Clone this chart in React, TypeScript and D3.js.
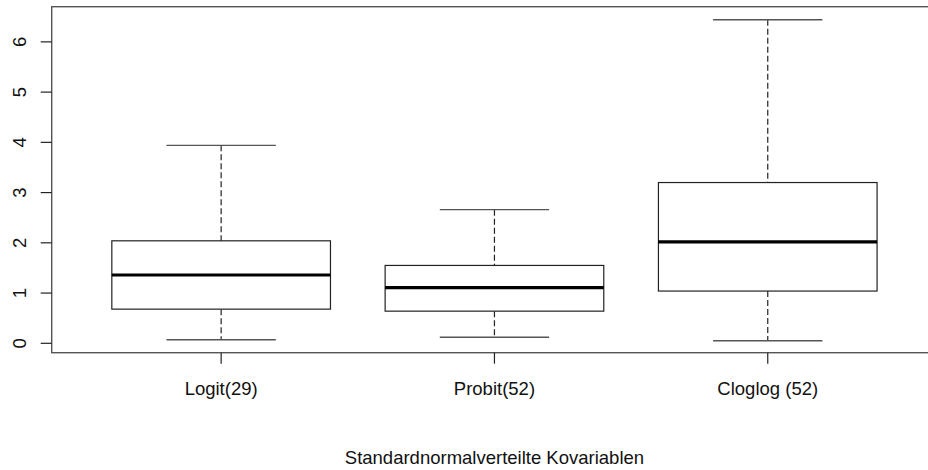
import React from "react";
import * as d3 from "d3";

const categories = ["Logit(29)", "Probit(52)", "Cloglog (52)"];
const whiskerLow = [0.07, 0.12, 0.05];
const q1 = [0.68, 0.64, 1.04];
const median = [1.36, 1.11, 2.02];
const q3 = [2.04, 1.55, 3.2];
const whiskerHigh = [3.94, 2.66, 6.44];
const yTicks = [0, 1, 2, 3, 4, 5, 6];
const xTitle = "Standardnormalverteilte Kovariablen";

const W = 928;
const H = 470;
const left = 51.7;
const top = 6.7;
const bottom = 352.7;
const right = 937.2;

export default function App() {
  const x = d3.scaleLinear().domain([0.38, 3.62]).range([left, right]);
  const y = d3.scaleLinear().domain([-0.187, 6.7]).range([bottom, top]);
  const boxHalf = 0.4;
  const capHalf = 0.2;
  const font = "'Liberation Sans', Arial, sans-serif";

  return (
    <svg
      width={W}
      height={H}
      style={{ position: "absolute", left: 0, top: 0, display: "block", background: "#fff" }}
    >
      <rect x={0} y={0} width={W} height={H} fill="#fff" />
      {/* frame */}
      <rect x={left} y={top} width={right - left} height={bottom - top} fill="none" stroke="#555" strokeWidth={1.4} />
      {/* y axis ticks */}
      {yTicks.map((t) => (
        <g key={"yt" + t}>
          <line x1={left - 11} x2={left} y1={y(t)} y2={y(t)} stroke="#222" strokeWidth={1.2} />
          <text
            transform={`translate(25.5,${y(t)}) rotate(-90)`}
            textAnchor="middle"
            fontFamily={font}
            fontSize={18.5}
            fill="#111"
          >
            {t}
          </text>
        </g>
      ))}
      {/* x ticks and labels */}
      {categories.map((c, i) => (
        <g key={"xt" + i}>
          <line x1={x(i + 1)} x2={x(i + 1)} y1={bottom} y2={bottom + 11} stroke="#222" strokeWidth={1.2} />
          <text
            x={x(i + 1)}
            y={394.5}
            textAnchor="middle"
            fontFamily={font}
            fontSize={18.5}
            fill="#111"
          >
            {c}
          </text>
        </g>
      ))}
      {/* boxes */}
      {categories.map((c, i) => {
        const cx = x(i + 1);
        const bx0 = x(i + 1 - boxHalf);
        const bx1 = x(i + 1 + boxHalf);
        const cx0 = x(i + 1 - capHalf);
        const cx1 = x(i + 1 + capHalf);
        return (
          <g key={"b" + i}>
            <line x1={cx} x2={cx} y1={y(whiskerHigh[i])} y2={y(q3[i])} stroke="#222" strokeWidth={1.2} strokeDasharray="6,3" />
            <line x1={cx} x2={cx} y1={y(q1[i])} y2={y(whiskerLow[i])} stroke="#222" strokeWidth={1.2} strokeDasharray="6,3" />
            <line x1={cx0} x2={cx1} y1={y(whiskerHigh[i])} y2={y(whiskerHigh[i])} stroke="#555" strokeWidth={1.4} />
            <line x1={cx0} x2={cx1} y1={y(whiskerLow[i])} y2={y(whiskerLow[i])} stroke="#555" strokeWidth={1.4} />
            <rect x={bx0} y={y(q3[i])} width={bx1 - bx0} height={y(q1[i]) - y(q3[i])} fill="#fff" stroke="#222" strokeWidth={1.2} />
            <line x1={bx0} x2={bx1} y1={y(median[i])} y2={y(median[i])} stroke="#000" strokeWidth={3.2} />
          </g>
        );
      })}
      {/* x title */}
      <text
        x={(left + right) / 2}
        y={464}
        textAnchor="middle"
        fontFamily={font}
        fontSize={18.5}
        fill="#111"
      >
        {xTitle}
      </text>
    </svg>
  );
}
